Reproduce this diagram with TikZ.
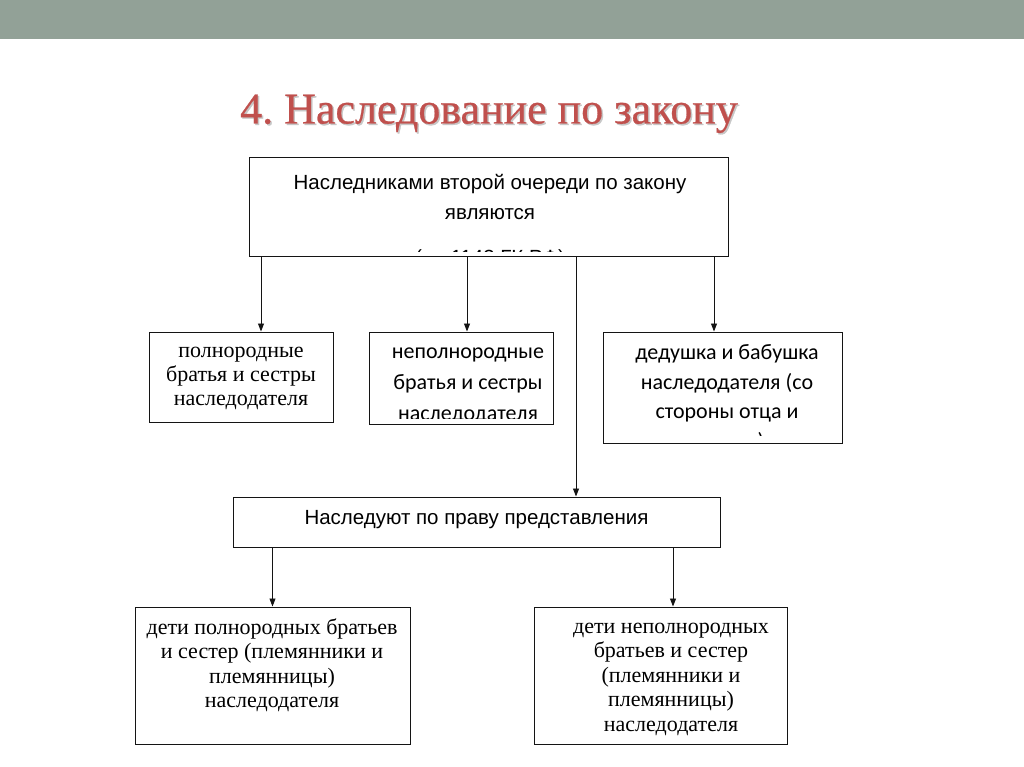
\documentclass[tikz,border=0pt]{standalone}
\usepackage{fontspec}
\setmainfont{Liberation Serif}
\newfontfamily\arialf{Liberation Sans}
\newfontfamily\calf{Carlito}
\newfontfamily\titlefnt{Liberation Serif}[FakeBold=0.6]
\usetikzlibrary{arrows.meta}
\definecolor{barcol}{RGB}{146,161,151}
\definecolor{titlecol}{RGB}{192,80,77}
\definecolor{linecol}{RGB}{20,20,20}
\frenchspacing
\tikzset{
  box/.style={draw=linecol, line width=1pt, rectangle, inner sep=0pt, fill=white},
  arr/.style={draw=linecol, line width=0.9pt, -{Triangle[length=8pt,width=6pt]}},
  txt/.style={inner sep=0pt, align=center},
  titlef/.style={font={\titlefnt\fontsize{44pt}{48pt}\selectfont}},
  sansf/.style={font={\arialf\fontsize{20.5pt}{30pt}\selectfont}},
  serf/.style={font={\fontsize{22pt}{24pt}\selectfont}},
  serfb/.style={font={\fontsize{22pt}{24.5pt}\selectfont}},
  calfs/.style={font={\calf\fontsize{22pt}{29.5pt}\selectfont}},
  calfb/.style={font={\calf\fontsize{22pt}{31pt}\selectfont}},
}
\begin{document}
\begin{tikzpicture}[x=1pt,y=-1pt]
\useasboundingbox (0,0) rectangle (1024,767);
\fill[white] (0,0) rectangle (1024,767);
\fill[barcol] (0,0) rectangle (1024,39);
% title
\node[txt, titlef, anchor=base, text=black!22] at (490.5,125) {4. Наследование по закону};
\node[txt, titlef, anchor=base, text=titlecol] (title) at (489,123.5) {4. Наследование по закону};
% boxes
\node[box, minimum width=479pt, minimum height=98pt] (top) at (488.5,207) {};
\node[box, minimum width=184pt, minimum height=90pt] (b1) at (241,377) {};
\node[box, minimum width=184pt, minimum height=92pt] (b2) at (461,378) {};
\node[box, minimum width=239pt, minimum height=111pt] (b3) at (722.5,387.5) {};
\node[box, minimum width=487pt, minimum height=50pt] (mid) at (476.5,522) {};
\node[box, minimum width=275pt, minimum height=137pt] (bl) at (272.5,675.5) {};
\node[box, minimum width=253pt, minimum height=137pt] (br) at (660.5,675.5) {};
% texts
\node[txt, sansf] (ttop) at (490,197) {Наследниками второй очереди по закону\\являются};
\begin{scope}
\clip (top.north west) rectangle ([yshift=5pt]top.south east);
\node[txt, sansf] (ttop2) at (490,259) {(ст. 1143 ГК РФ)};
\end{scope}
\node[txt, serf] (tb1) at (241,378) {полнородные\\братья и сестры\\наследодателя};
\begin{scope}
\clip (b2.north west) rectangle ([yshift=6pt]b2.south east);
\node[txt, calfb] (tb2) at (468,386) {неполнородные\\братья и сестры\\наследодателя};
\end{scope}
\begin{scope}
\clip (b3.north west) rectangle ([yshift=8pt]b3.south east);
\node[txt, calfs] (tb3) at (727,398.5) {дедушка и бабушка\\наследодателя (со\\стороны отца и\\матери)};
\end{scope}
\node[txt, sansf] (tmid) at (476.5,520) {Наследуют по праву представления};
\node[txt, serfb] (tbl) at (272,665) {дети полнородных братьев\\и сестер (племянники и\\племянницы)\\наследодателя};
\node[txt, serfb] (tbr) at (671,679) {дети неполнородных\\братьев и сестер\\(племянники и\\племянницы)\\наследодателя};
% connectors
\draw[arr] ([xshift=20pt]b1.north |- top.south) -- ([xshift=20pt]b1.north);
\draw[arr] ([xshift=6pt]b2.north |- top.south) -- ([xshift=6pt]b2.north);
\draw[arr] ([xshift=-8.5pt]b3.north |- top.south) -- ([xshift=-8.5pt]b3.north);
\draw[arr] ([xshift=99.5pt]mid.north |- top.south) -- ([xshift=99.5pt]mid.north);
\draw[arr] (bl.north |- mid.south) -- (bl.north);
\draw[arr] ([xshift=12.5pt]br.north |- mid.south) -- ([xshift=12.5pt]br.north);
\end{tikzpicture}
\end{document}
